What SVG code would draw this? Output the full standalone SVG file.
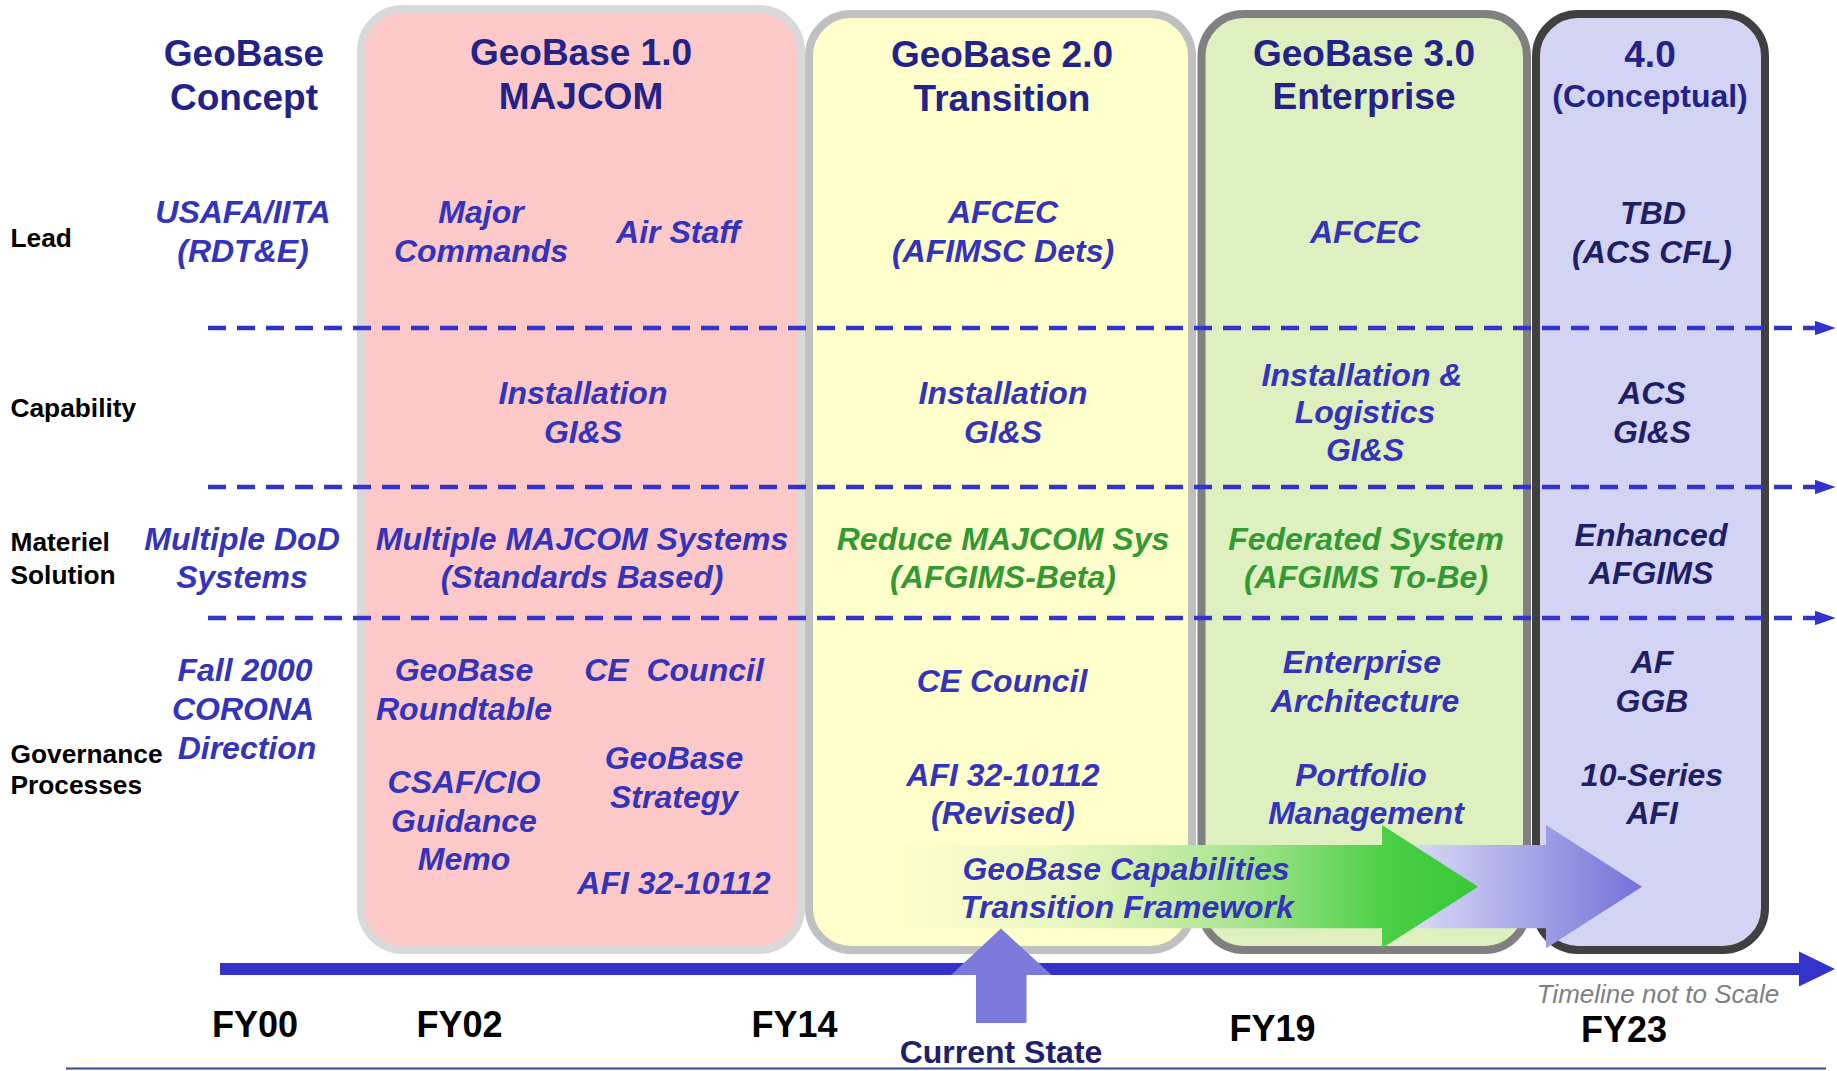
<svg xmlns="http://www.w3.org/2000/svg" width="1837" height="1071" viewBox="0 0 1837 1071">
<style>
text{font-family:"Liberation Sans",Arial,sans-serif;text-anchor:middle}
.hd{font-size:37px;font-weight:bold;fill:#22228A}
.hd2{font-size:32px;font-weight:bold;fill:#22228A}
.rl{font-size:26.3px;font-weight:bold;fill:#000;text-anchor:start}
.bi{font-size:32px;font-weight:bold;font-style:italic;fill:#3333BB}
.gi{font-size:32px;font-weight:bold;font-style:italic;fill:#339933}
.di{font-size:32px;font-weight:bold;font-style:italic;fill:#1F1F66}
.fy{font-size:36px;font-weight:bold;fill:#000}
.col{stroke-width:8}
.dash{stroke:#3333CC;stroke-width:4.5;stroke-dasharray:18 11;fill:none}
</style>
<defs>
<marker id="dh" viewBox="0 0 10 10" refX="0" refY="5" markerWidth="4.6" markerHeight="3.2" markerUnits="strokeWidth" orient="auto" preserveAspectRatio="none">
<path d="M0,0 L10,5 L0,10 Z" fill="#3333CC"/>
</marker>
<linearGradient id="gGreen" gradientUnits="userSpaceOnUse" x1="883" y1="0" x2="1478" y2="0">
<stop offset="0" stop-color="#FFFFCC"/>
<stop offset="0.3" stop-color="#EAF6C0"/>
<stop offset="0.6" stop-color="#A8E490"/>
<stop offset="0.85" stop-color="#4ACF45"/>
<stop offset="1" stop-color="#38C838"/>
</linearGradient>
<linearGradient id="gPurple" gradientUnits="userSpaceOnUse" x1="1420" y1="0" x2="1642" y2="0">
<stop offset="0" stop-color="#D6D6F5"/>
<stop offset="1" stop-color="#7272D9"/>
</linearGradient>
</defs>
<rect width="1837" height="1071" fill="#FFFFFF"/>

<g id="col-geobase1">
<rect class="col" x="361" y="9" width="440" height="941" rx="42" fill="#FCC9C8" stroke="#D9D9D9"/>
</g>
<g id="col-geobase2">
<rect class="col" x="809" y="14" width="383" height="936" rx="42" fill="#FFFFCC" stroke="#C0C0C0"/>
</g>
<g id="col-geobase3">
<rect class="col" x="1201.5" y="14" width="325.5" height="936" rx="42" fill="#DEEFC0" stroke="#808080"/>
</g>
<g id="col-geobase4">
<rect class="col" x="1536" y="14" width="229" height="936" rx="42" fill="#D3D3F3" stroke="#404040"/>
</g>

<g id="connectors">
<line class="dash" x1="208" y1="328" x2="1815" y2="328" marker-end="url(#dh)"/>
<line class="dash" x1="208" y1="487" x2="1815" y2="487" marker-end="url(#dh)"/>
<line class="dash" x1="208" y1="618" x2="1815" y2="618" marker-end="url(#dh)"/>
<polygon id="arrow-4" points="1382,845 1546,845 1546,825 1642,886.7 1546,948.3 1546,928.3 1382,928.3" fill="url(#gPurple)"/>
<polygon id="arrow-framework" points="883,845 1382,845 1382,825 1478,886.7 1382,948.3 1382,928.3 883,928.3" fill="url(#gGreen)"/>
<rect id="timeline" x="220" y="963" width="1580" height="12" fill="#3333CC"/>
<polygon points="1799,951.5 1835,969 1799,986.5" fill="#3333CC"/>
<polygon id="current-state-arrow" points="1001,928.5 1051.5,975 1026.5,975 1026.5,1023 976,1023 976,975 951,975" fill="#7B7BDB"/>
<line x1="66" y1="1068.5" x2="1826" y2="1068.5" stroke="#2F4F8F" stroke-width="2"/>
</g>

<g id="row-labels">
<text class="rl" x="10.5" y="247">Lead</text>
<text class="rl" x="10.5" y="417">Capability</text>
<text class="rl" x="10.5" y="551">Materiel</text>
<text class="rl" x="10.5" y="583.5">Solution</text>
<text class="rl" x="10.5" y="762.5">Governance</text>
<text class="rl" x="10.5" y="794">Processes</text>
</g>

<g id="concept">
<text class="hd" x="244" y="66">GeoBase</text>
<text class="hd" x="244" y="110">Concept</text>
<text class="bi" x="243" y="223">USAFA/IITA</text>
<text class="bi" x="243" y="262">(RDT&amp;E)</text>
<text class="bi" x="242" y="550">Multiple DoD</text>
<text class="bi" x="242" y="588">Systems</text>
<text class="bi" x="245" y="681">Fall 2000</text>
<text class="bi" x="243" y="720">CORONA</text>
<text class="bi" x="247" y="758.5">Direction</text>
</g>

<g id="geobase1-text">
<text class="hd" x="581" y="64.5">GeoBase 1.0</text>
<text class="hd" x="581" y="108.5">MAJCOM</text>
<text class="bi" x="481" y="223">Major</text>
<text class="bi" x="481" y="262">Commands</text>
<text class="bi" x="678" y="243">Air Staff</text>
<text class="bi" x="583" y="404">Installation</text>
<text class="bi" x="583" y="442.5">GI&amp;S</text>
<text class="bi" x="582" y="550">Multiple MAJCOM Systems</text>
<text class="bi" x="582" y="588">(Standards Based)</text>
<text class="bi" x="464" y="681">GeoBase</text>
<text class="bi" x="464" y="720">Roundtable</text>
<text class="bi" x="674" y="681" xml:space="preserve">CE  Council</text>
<text class="bi" x="674" y="769">GeoBase</text>
<text class="bi" x="674" y="808">Strategy</text>
<text class="bi" x="464" y="792.5">CSAF/CIO</text>
<text class="bi" x="464" y="832">Guidance</text>
<text class="bi" x="464" y="870">Memo</text>
<text class="bi" x="674" y="894">AFI 32-10112</text>
</g>

<g id="geobase2-text">
<text class="hd" x="1002" y="66.5">GeoBase 2.0</text>
<text class="hd" x="1002" y="111">Transition</text>
<text class="bi" x="1003" y="223">AFCEC</text>
<text class="bi" x="1003" y="262">(AFIMSC Dets)</text>
<text class="bi" x="1003" y="404">Installation</text>
<text class="bi" x="1003" y="442.5">GI&amp;S</text>
<text class="gi" x="1003" y="550">Reduce MAJCOM Sys</text>
<text class="gi" x="1003" y="588">(AFGIMS-Beta)</text>
<text class="bi" x="1002" y="692">CE Council</text>
<text class="bi" x="1003" y="785.5">AFI 32-10112</text>
<text class="bi" x="1003" y="823.5">(Revised)</text>
</g>

<g id="geobase3-text">
<text class="hd" x="1364" y="65.5">GeoBase 3.0</text>
<text class="hd" x="1364" y="109">Enterprise</text>
<text class="bi" x="1365" y="243">AFCEC</text>
<text class="bi" x="1362" y="385.5">Installation &amp;</text>
<text class="bi" x="1365" y="423">Logistics</text>
<text class="bi" x="1365" y="461">GI&amp;S</text>
<text class="gi" x="1366" y="550">Federated System</text>
<text class="gi" x="1366" y="588">(AFGIMS To-Be)</text>
<text class="bi" x="1362" y="673">Enterprise</text>
<text class="bi" x="1365" y="711.5">Architecture</text>
<text class="bi" x="1361" y="785.5">Portfolio</text>
<text class="bi" x="1366" y="823.5">Management</text>
</g>

<g id="geobase4-text">
<text class="hd" x="1650" y="66.5">4.0</text>
<text class="hd2" x="1650" y="107">(Conceptual)</text>
<text class="di" x="1653" y="224">TBD</text>
<text class="di" x="1652" y="263">(ACS CFL)</text>
<text class="di" x="1652" y="404">ACS</text>
<text class="di" x="1652" y="442.5">GI&amp;S</text>
<text class="di" x="1651" y="546">Enhanced</text>
<text class="di" x="1651" y="584">AFGIMS</text>
<text class="di" x="1652" y="673">AF</text>
<text class="di" x="1652" y="711.5">GGB</text>
<text class="di" x="1652" y="785.5">10-Series</text>
<text class="di" x="1652" y="823.5">AFI</text>
</g>

<g id="framework-label">
<text class="bi" x="1126" y="880">GeoBase Capabilities</text>
<text class="bi" x="1127" y="917.5">Transition Framework</text>
</g>

<g id="timeline-labels">
<text class="fy" x="255" y="1037">FY00</text>
<text class="fy" x="459.5" y="1037">FY02</text>
<text class="fy" x="794.5" y="1037">FY14</text>
<text class="fy" x="1272.5" y="1041">FY19</text>
<text class="fy" x="1624" y="1042">FY23</text>
<text x="1658" y="1002.5" style="font-size:26px;font-style:italic;fill:#808080">Timeline not to Scale</text>
<text x="1001" y="1063" style="font-size:32px;font-weight:bold;fill:#1F1F6B">Current State</text>
</g>
</svg>
